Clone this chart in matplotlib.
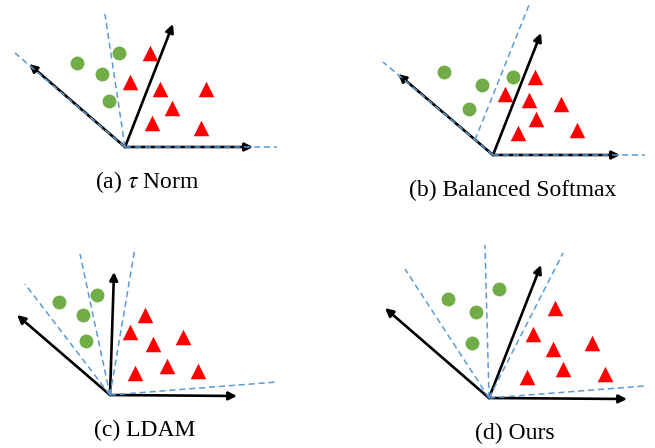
import matplotlib
matplotlib.use("Agg")
import matplotlib.pyplot as plt
from matplotlib.patches import FancyArrowPatch

# pixel coordinates of the diagram (x right, y down)
origin = {"a": (125, 147), "b": (493, 155), "c": (110, 395), "d": (489, 398)}

arrows_a = [(173, 24), (29, 64), (253, 147)]
arrows_b = [(541, 33), (398, 74), (620, 155)]
arrows_c = [(114, 272), (17, 315), (237, 396)]
arrows_d = [(541, 265), (385, 308), (627, 399)]

# dashed boundaries: (start, end)
dashes_a = [((125, 147), (105, 14)), ((125, 147), (15, 53)), ((125, 147), (277, 147))]
dashes_b = [((475, 140), (529, 5)), ((493, 155), (383, 62)), ((493, 155), (645, 155))]
dashes_c = [((110, 395), (25, 284)), ((110, 395), (80, 254)),
            ((110, 395), (135, 248)), ((110, 395), (277, 382))]
dashes_d = [((489, 398), (405, 269)), ((489, 398), (485, 245)),
            ((489, 398), (563, 253)), ((489, 398), (645, 386))]

green_a = [(77, 63), (102, 74), (119, 53), (109, 101)]
green_b = [(444, 72), (482, 85), (513, 77), (469, 109)]
green_c = [(59, 302), (83, 315), (97, 295), (86, 341)]
green_d = [(448, 299), (476, 312), (499, 289), (472, 343)]

red_a = [(150, 53), (130, 82), (160, 89), (206, 89), (172, 108), (152, 123), (201, 128)]
red_b = [(535, 77), (505, 94), (529, 100), (561, 104), (536, 119), (518, 133), (577, 130)]
red_c = [(145, 315), (130, 332), (153, 344), (183, 337), (167, 366), (135, 373), (198, 371)]
red_d = [(555, 308), (533, 334), (553, 349), (592, 343), (563, 369), (527, 377), (605, 374)]

captions = ["(a) $\\tau$ Norm", "(b) Balanced Softmax", "(c) LDAM", "(d) Ours"]
caption_pos = [(147, 182), (513, 190), (145, 430), (515, 433)]

plt.rcParams["font.family"] = ["Liberation Serif", "DejaVu Serif"]
plt.rcParams["mathtext.fontset"] = "stix"

fig = plt.figure(figsize=(6.55, 4.48), dpi=100)
ax = fig.add_axes([0, 0, 1, 1])
ax.set_xlim(0, 655)
ax.set_ylim(448, 0)
ax.axis("off")

blue = "#5b9bd5"
green = "#70ad47"
red = "#ff0000"

panels = [
    ("a", arrows_a, dashes_a, green_a, red_a),
    ("b", arrows_b, dashes_b, green_b, red_b),
    ("c", arrows_c, dashes_c, green_c, red_c),
    ("d", arrows_d, dashes_d, green_d, red_d),
]

for key, arrows, dashes, greens, reds in panels:
    ox, oy = origin[key]
    for tx, ty in arrows:
        ax.add_patch(FancyArrowPatch((ox, oy), (tx, ty), arrowstyle="-|>",
                                     mutation_scale=12, lw=1.9, color="black",
                                     shrinkA=0, shrinkB=0, zorder=2))
    for (x0, y0), (x1, y1) in dashes:
        ax.plot([x0, x1], [y0, y1], color=blue, lw=1.1, ls=(0, (4, 2.5)), zorder=3)
    ax.scatter([p[0] for p in greens], [p[1] for p in greens], s=100, color=green,
               marker="o", linewidths=0, zorder=4)
    ax.scatter([p[0] for p in reds], [p[1] for p in reds], s=125, color=red,
               marker="^", linewidths=0, zorder=4)

for text, (x, y) in zip(captions, caption_pos):
    ax.text(x, y, text, ha="center", va="center", fontsize=17)

fig.savefig("out.png", dpi=100)
